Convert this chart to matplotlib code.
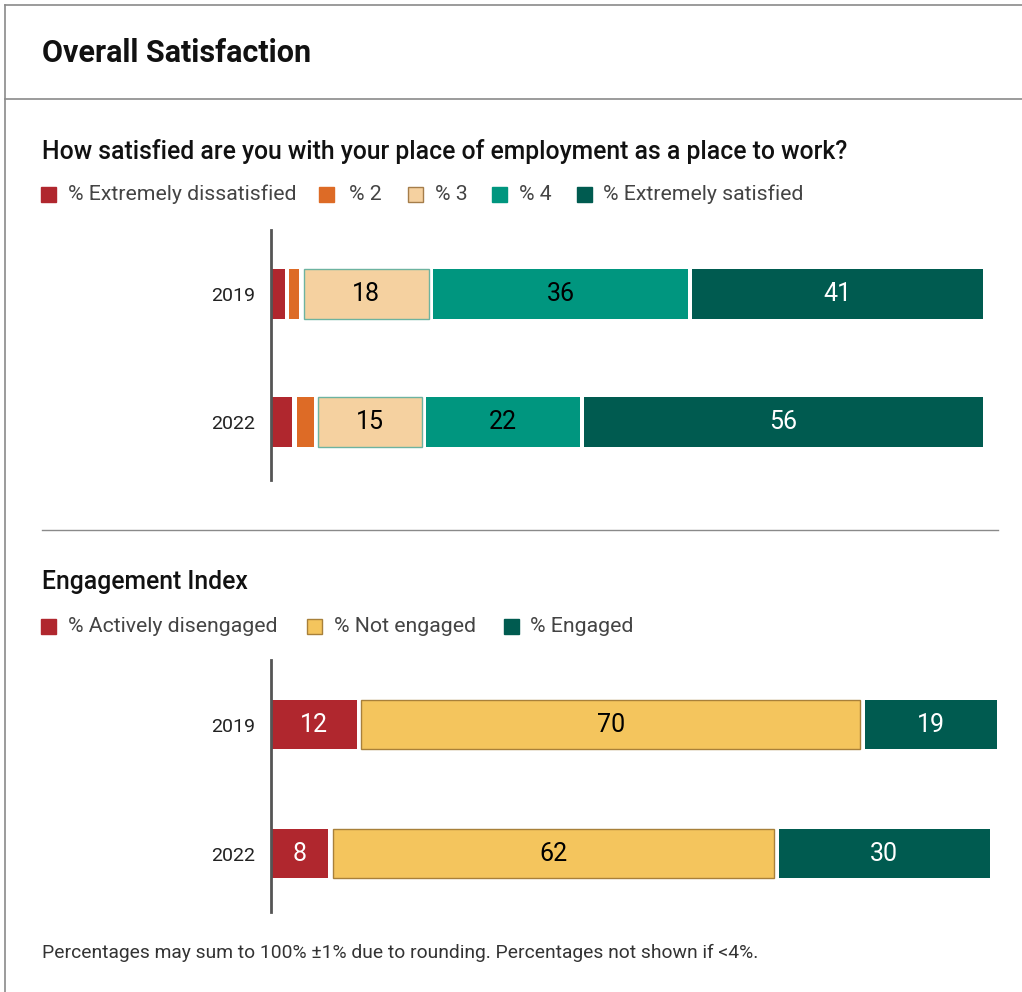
import matplotlib.pyplot as plt
import numpy as np
from matplotlib.lines import Line2D
from matplotlib.patches import Rectangle

plt.rcParams['font.family'] = ['Roboto', 'DejaVu Sans']

years = ['2019', '2022']

# Overall satisfaction
sat_labels = ['% Extremely dissatisfied', '% 2', '% 3', '% 4', '% Extremely satisfied']
sat_values = [
    [2, 2, 18, 36, 41],
    [3, 3, 15, 22, 56],
]
sat_colors = ['#B0272E', '#DD6B26', '#F5D1A0', '#00967F', '#005B50']
sat_edges = [None, None, '#6DB3A0', None, None]
sat_text = ['white', 'white', 'black', 'black', 'white']

# Engagement index
eng_labels = ['% Actively disengaged', '% Not engaged', '% Engaged']
eng_values = [
    [12, 70, 19],
    [8, 62, 30],
]
eng_colors = ['#B0272E', '#F4C55D', '#005B50']
eng_edges = [None, '#A8803A', None]
eng_text = ['white', 'black', 'white']

W, H = 1022, 992
fig = plt.figure(figsize=(W / 100, H / 100), dpi=100)


def fx(x):
    return x / W


def fy(y):
    return 1 - y / H


def px_axes(x0, y0, x1, y1):
    return fig.add_axes([fx(x0), fy(y1), fx(x1) - fx(x0), (y1 - y0) / H])


# frame
fig.add_artist(Line2D([fx(5), fx(5)], [fy(5), fy(992)], color='#8a8a8a', lw=1.2))
fig.add_artist(Line2D([fx(5), 1], [fy(5), fy(5)], color='#8a8a8a', lw=1.2))
fig.add_artist(Line2D([fx(5), 1], [fy(99), fy(99)], color='#8a8a8a', lw=1.2))
fig.add_artist(Line2D([fx(42), fx(998)], [fy(530), fy(530)], color='#8a8a8a', lw=1.0))

fig.text(fx(42), fy(53), 'Overall Satisfaction', fontsize=22, fontweight='bold',
         va='center', ha='left', color='#111111')
fig.text(fx(42), fy(151), 'How satisfied are you with your place of employment as a place to work?',
         fontsize=17.8, fontweight='medium', va='center', ha='left', color='#111111')
fig.text(fx(42), fy(582), 'Engagement Index', fontsize=17.8, fontweight='medium',
         va='center', ha='left', color='#111111')
fig.text(fx(42), fy(953), 'Percentages may sum to 100% \u00b11% due to rounding. Percentages not shown if <4%.',
         fontsize=13.9, va='center', ha='left', color='#333333')


def legend(labels, colors, edges, sq_x, txt_x, yc):
    for lab, c, e, sx, tx in zip(labels, colors, edges, sq_x, txt_x):
        fig.add_artist(Rectangle((fx(sx), fy(yc + 8)), 15 / W, 15 / H, facecolor=c,
                                 edgecolor=e if e else c, lw=1, transform=fig.transFigure))
        fig.text(fx(tx), fy(yc), lab, fontsize=15.3, va='center', ha='left', color='#444444')


legend(sat_labels, sat_colors, ['#A57D4A' if e else None for e in sat_edges],
       [41, 319, 408, 492, 577], [68, 349, 435, 519, 603], 194)
legend(eng_labels, eng_colors, eng_edges,
       [41, 307, 504], [68, 334, 530], 626)

gap = 0.63
bar_h = 0.383


def stacked(ax, values, colors, edges, text_colors):
    for i, row in enumerate(values):
        left = 0
        for j, (v, c, e, tc) in enumerate(zip(row, colors, edges, text_colors)):
            g = gap if j > 0 else 0
            ax.barh(i, v - g, left=left + g, height=bar_h, color=c,
                    edgecolor=e if e else c, linewidth=1 if e else 0, clip_on=False)
            if v >= 4:
                ax.text(left + g + (v - g) / 2, i, str(v), ha='center', va='center',
                        fontsize=18, color=tc)
            left += v
    ax.set_xlim(0, 100)
    ax.set_ylim(1.453, -0.5)
    ax.set_yticks(range(len(years)))
    ax.set_yticklabels(years, fontsize=14, color='#222222')
    ax.tick_params(axis='y', length=0, pad=11)
    ax.set_xticks([])
    for s in ['top', 'right', 'bottom']:
        ax.spines[s].set_visible(False)
    ax.spines['left'].set_color('#555555')
    ax.spines['left'].set_linewidth(2)
    ax.patch.set_alpha(0)


ax1 = px_axes(270.5, 230, 990, 480)
stacked(ax1, sat_values, sat_colors, sat_edges, sat_text)

ax2 = px_axes(270.5, 660, 990, 912)
stacked(ax2, eng_values, eng_colors, eng_edges, eng_text)

fig.savefig('out.png', dpi=100)
